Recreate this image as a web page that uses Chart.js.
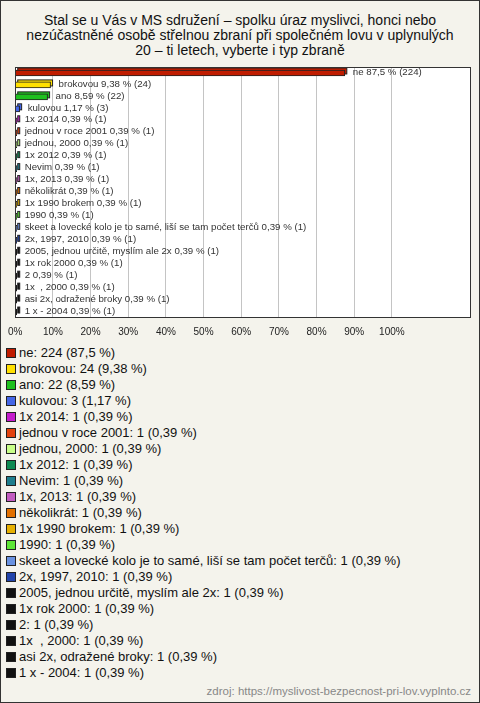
<!DOCTYPE html>
<html>
<head>
<meta charset="utf-8">
<script src="https://cdn.jsdelivr.net/npm/chart.js@4.4.0/dist/chart.umd.min.js"></script>
<style>
  body { margin: 0; background: #fff; font-family: 'Liberation Sans', Arial, sans-serif; }
  #box { position: relative; width: 478px; height: 701px; border: 1px solid #333; background: #f4f3ec; overflow: hidden; }
  #title { position: absolute; top: 12px; left: 0; width: 478px; text-align: center; font-size: 14px; line-height: 15px; color: #111; }
  #wrap { position: absolute; left: -1px; top: 59px; width: 480px; height: 280px; }
  #legend { position: absolute; left: 5px; top: 344px; font-size: 13px; color: #111; }
  .row { height: 16px; line-height: 16px; white-space: pre; display: flex; align-items: center; }
  .sw { width: 8px; height: 8px; border: 1px solid #222; margin-right: 3px; flex: none; }
  #src { position: absolute; right: 8px; bottom: 4px; font-size: 11.5px; line-height: 13px; color: #888; }
</style>
</head>
<body>
<div id="box">
  <div id="title">Stal se u Vás v MS sdružení – spolku úraz myslivci, honci nebo<br>nezúčastněné osobě střelnou zbraní při společném lovu v uplynulých<br>20 – ti letech, vyberte i typ zbraně</div>
  <div id="wrap"><canvas id="barChart"></canvas></div>
  <div id="legend"></div>
  <div id="src">zdroj: https://myslivost-bezpecnost-pri-lov.vyplnto.cz</div>
</div>
<script>
const categories = [
  'ne', 'brokovou', 'ano', 'kulovou', '1x 2014', 'jednou v roce 2001', 'jednou, 2000',
  '1x 2012', 'Nevim', '1x, 2013', 'několikrát', '1x 1990 brokem', '1990',
  'skeet a lovecké kolo je to samé, liší se tam počet terčů', '2x, 1997, 2010',
  '2005, jednou určitě, myslím ale 2x', '1x rok 2000', '2', '1x  , 2000',
  'asi 2x, odražené broky', '1 x - 2004'
];
const counts = [224, 24, 22, 3, 1, 1, 1, 1, 1, 1, 1, 1, 1, 1, 1, 1, 1, 1, 1, 1, 1];
const percents = [87.5, 9.38, 8.59, 1.17, 0.39, 0.39, 0.39, 0.39, 0.39, 0.39, 0.39, 0.39, 0.39, 0.39, 0.39, 0.39, 0.39, 0.39, 0.39, 0.39, 0.39];
const colors = [
  '#c01c00', '#ffe000', '#1fc01f', '#4466e6', '#c41ccc', '#e2420e', '#c8ff88',
  '#0e8a52', '#1e7e8e', '#c25cc0', '#e27000', '#e6b000', '#5ee636',
  '#6a92e0', '#2244aa', '#111111', '#111111', '#111111', '#111111', '#111111', '#111111'
];
const tickMax = 100;

const fmt = v => String(v).replace('.', ',');

// legend as html
const legend = document.getElementById('legend');
categories.forEach((c, i) => {
  const row = document.createElement('div');
  row.className = 'row';
  const sw = document.createElement('span');
  sw.className = 'sw';
  sw.style.background = colors[i];
  row.appendChild(sw);
  row.appendChild(document.createTextNode(c + ': ' + counts[i] + ' (' + fmt(percents[i]) + ' %)'));
  legend.appendChild(row);
});

const frame = {
  id: 'frame',
  beforeDraw(chart) {
    const { ctx, chartArea: a } = chart;
    ctx.save();
    ctx.fillStyle = '#fff';
    ctx.fillRect(a.left, a.top, a.width, a.height);
    ctx.restore();
  },
  afterDraw(chart) {
    const { ctx, chartArea: a } = chart;
    ctx.save();
    ctx.strokeStyle = '#333';
    ctx.lineWidth = 1;
    ctx.strokeRect(Math.round(a.left) + 0.5, Math.round(a.top) + 0.5, Math.round(a.width) - 1, Math.round(a.height) - 1);
    ctx.restore();
  }
};

// fake 3d depth + value labels
const depth = {
  id: 'depth',
  beforeDatasetsDraw(chart) {
    const ctx = chart.ctx;
    ctx.save();
    chart.getDatasetMeta(0).data.forEach((bar, i) => {
      const p = bar.getProps(['x', 'y', 'base', 'height'], true);
      const w = Math.max(p.x - p.base, 2);
      ctx.fillStyle = colors[i];
      ctx.strokeStyle = '#222';
      ctx.lineWidth = 1;
      ctx.fillRect(p.base + 2, p.y - p.height / 2 - 2, w, p.height);
      ctx.strokeRect(p.base + 2, p.y - p.height / 2 - 2, w, p.height);
    });
    ctx.restore();
  },
  afterDatasetsDraw(chart) {
    const ctx = chart.ctx;
    ctx.save();
    ctx.font = '9.7px "Liberation Sans", Arial, sans-serif';
    ctx.fillStyle = '#333';
    ctx.textBaseline = 'middle';
    chart.getDatasetMeta(0).data.forEach((bar, i) => {
      const p = bar.getProps(['x', 'y'], true);
      ctx.fillText(categories[i] + ' ' + fmt(percents[i]) + ' % (' + counts[i] + ')', p.x + 8, p.y - 1);
    });
    ctx.restore();
  }
};

new Chart(document.getElementById('barChart'), {
  type: 'bar',
  data: {
    labels: categories,
    datasets: [{
      data: percents,
      backgroundColor: colors,
      borderColor: '#222',
      borderWidth: 1,
      barThickness: 6
    }]
  },
  options: {
    indexAxis: 'y',
    responsive: true,
    maintainAspectRatio: false,
    animation: false,
    layout: { padding: { left: 11, right: 9, top: 7, bottom: 0 } },
    plugins: { legend: { display: false }, tooltip: { enabled: false } },
    scales: {
      x: {
        min: 0,
        max: 121,
        afterFit(scale) { scale.height = 22; },
        border: { display: false },
        grid: {
          drawTicks: false,
          color: c => (c.tick && c.tick.value <= tickMax ? '#c4c4c4' : 'transparent')
        },
        ticks: {
          stepSize: 10,
          padding: 8,
          maxRotation: 0,
          autoSkip: false,
          color: '#222',
          font: { family: '"Liberation Sans", Arial, sans-serif', size: 10 },
          callback: v => (v <= tickMax ? v + '%' : '')
        }
      },
      y: { display: false }
    }
  },
  plugins: [frame, depth]
});
</script>
</body>
</html>
